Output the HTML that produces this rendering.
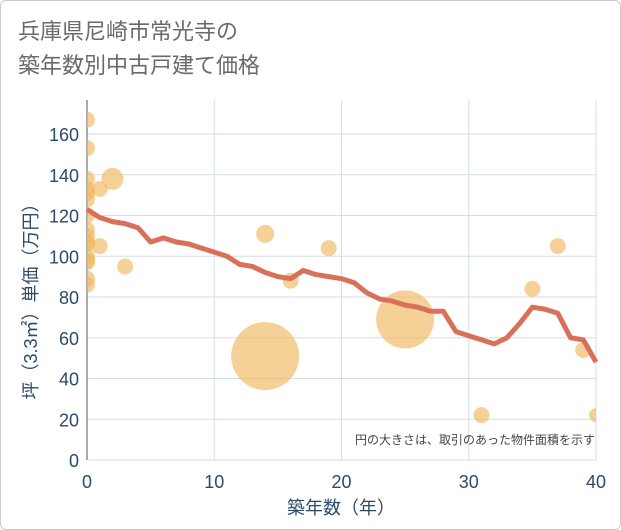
<!DOCTYPE html>
<html><head><meta charset="utf-8"><style>
body{margin:0;background:#fff;}
#wrap{width:621px;height:530px;position:relative;box-sizing:border-box;border:1px solid #ccc;border-radius:6px;background:#fff;font-family:"Liberation Sans","Noto Sans CJK JP",sans-serif;}
#title{position:absolute;left:17px;top:14px;font-size:22px;line-height:34px;color:#6a6a6a;}
</style></head><body>
<div id="wrap">
<div id="title">兵庫県尼崎市常光寺の<br>築年数別中古戸建て価格</div>
<svg id="chart" width="621" height="530" style="position:absolute;left:-1px;top:-1px"></svg>
</div>
<script>
const scatterX=[0,0,0,0,0,0,0,0,0,0,0,0,0,0,0,0,1,1,2,3,14,14,16,19,25,31,35,37,39,40];
const scatterY=[167,153,138,131,128,133,120,113,110,107,106,100,98,97,89,86,133,105,138,95,111,51,88,104,69,22,84,105,54,22];
const scatterR=[8,8,8,8,8,8,8,8,8,8,8,8,8,8,8,8,8,8,11,8,9,34,8,8,29,8,8,8,8,7];
const lineX=[0,1,2,3,4,5,6,7,8,9,10,11,12,13,14,15,16,17,18,19,20,21,22,23,24,25,26,27,28,29,30,31,32,33,34,35,36,37,38,39,40];
const lineY=[123,119,117,116,114,107,109,107,106,104,102,100,96,95,92,90,89,93,91,90,89,87,82,79,78,76,75,73,73,63,61,59,57,60,67,75,74,72,60,59,48];
const xTicks=[0,10,20,30,40];
const yTicks=[0,20,40,60,80,100,120,140,160];
const NS="http://www.w3.org/2000/svg";
const svg=document.getElementById('chart');
const X0=87,X1=596,Y0=460,Y1=134;
const sx=v=>X0+(X1-X0)*v/40;
const sy=v=>Y0-(Y0-Y1)*v/160;
function mk(t,a,p){const e=document.createElementNS(NS,t);for(const k in a)e.setAttribute(k,a[k]);(p||svg).appendChild(e);return e;}
const clip=mk('clipPath',{id:'pc'});mk('rect',{x:X0,y:100,width:X1-X0,height:Y0-100},clip);
for(const t of yTicks){
 const g=mk('line',{x1:X0,x2:X1,y1:sy(t),y2:sy(t),stroke:'#d5dde8','stroke-width':1});
 
 
 const l=mk('text',{x:X0-8,y:sy(t)+7,'text-anchor':'end','font-size':18,fill:'#2e4a6b'});l.textContent=t;
 
 
}
for(const t of xTicks){
 const g=mk('line',{x1:sx(t),x2:sx(t),y1:100,y2:Y0,stroke:'#d5dde8','stroke-width':1});
 
 
 const l=mk('text',{x:sx(t),y:488,'text-anchor':'middle','font-size':18,fill:'#2e4a6b'});l.textContent=t;
 
 
}
const ax=mk('line',{x1:X0,x2:X0,y1:100,y2:Y0,stroke:'#555','stroke-width':1});


const gS=mk('g',{'clip-path':'url(#pc)'});
for(let i=0;i<scatterX.length;i++){
 const c=mk('circle',{cx:sx(scatterX[i]),cy:sy(scatterY[i]),r:scatterR[i],fill:'rgba(240,185,95,0.65)'},gS);
 
 
}
const pts=lineX.map((x,i)=>sx(x)+','+sy(lineY[i])).join(' ');
const pl=mk('polyline',{points:pts,fill:'none',stroke:'#d9705a','stroke-width':5,'stroke-linejoin':'round'});


const note=mk('text',{x:595,y:444,'text-anchor':'end','font-size':12,fill:'#444'});note.textContent='円の大きさは、取引のあった物件面積を示す';


const xt=mk('text',{x:341,y:514,'text-anchor':'middle','font-size':18,fill:'#2e4a6b'});xt.textContent='築年数（年）';


const yt=mk('text',{x:0,y:0,'text-anchor':'middle','font-size':18,fill:'#2e4a6b',transform:'translate(37,297) rotate(-90)'});yt.textContent='坪（3.3㎡）単価（万円）';


</script>
</body></html>
